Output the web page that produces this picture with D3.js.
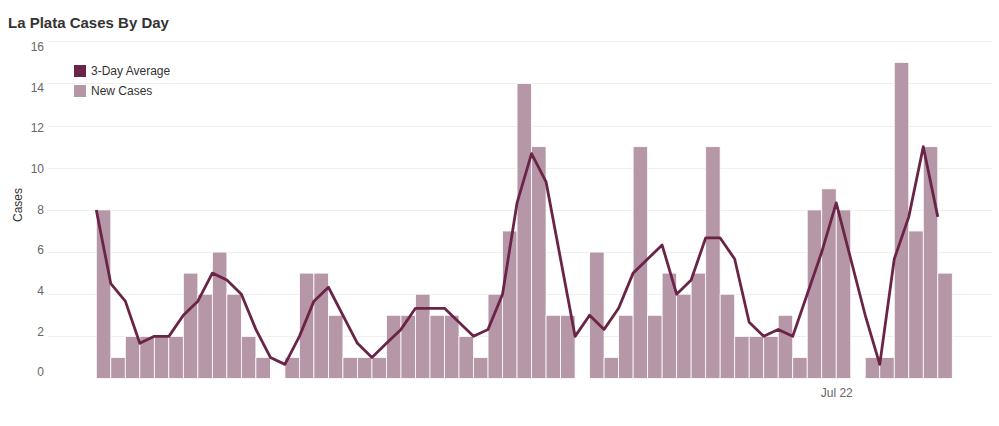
<!DOCTYPE html>
<html>
<head>
<meta charset="utf-8">
<script src="https://cdn.jsdelivr.net/npm/d3@7/dist/d3.min.js"></script>
<style>
  html, body { margin: 0; padding: 0; background: #fff; }
  svg { display: block; font-family: "Liberation Sans", Arial, Helvetica, sans-serif; }
</style>
</head>
<body>
<svg id="chart" width="999" height="426"></svg>
<script>
// ---- data ----
const dates = [
  "2020-06-01","2020-06-02","2020-06-03","2020-06-04","2020-06-05","2020-06-06","2020-06-07","2020-06-08","2020-06-09","2020-06-10",
  "2020-06-11","2020-06-12","2020-06-13","2020-06-14","2020-06-15","2020-06-16","2020-06-17","2020-06-18","2020-06-19","2020-06-20",
  "2020-06-21","2020-06-22","2020-06-23","2020-06-24","2020-06-25","2020-06-26","2020-06-27","2020-06-28","2020-06-29","2020-06-30",
  "2020-07-01","2020-07-02","2020-07-03","2020-07-04","2020-07-05","2020-07-06","2020-07-07","2020-07-08","2020-07-09","2020-07-10",
  "2020-07-11","2020-07-12","2020-07-13","2020-07-14","2020-07-15","2020-07-16","2020-07-17","2020-07-18","2020-07-19","2020-07-20",
  "2020-07-21","2020-07-22","2020-07-23","2020-07-24","2020-07-25","2020-07-26","2020-07-27","2020-07-28","2020-07-29"
];
const newCases = [
  8,1,2,2,2,2,5,4,6,4,
  2,1,0,1,5,5,3,1,1,1,
  3,3,4,3,3,2,1,4,7,14,
  11,3,3,0,6,1,3,11,3,5,
  4,5,11,4,2,2,2,3,1,8,
  9,8,0,1,1,15,7,11,5
];
const avg3 = [
  8,4.5,3.67,1.67,2,2,3,3.67,5,4.67,
  4,2.33,1,0.67,2,3.67,4.33,3,1.67,1,
  1.67,2.33,3.33,3.33,3.33,2.67,2,2.33,4,8.33,
  10.67,9.33,5.67,2,3,2.33,3.33,5,5.67,6.33,
  4,4.67,6.67,6.67,5.67,2.67,2,2.33,2,4,
  6,8.33,5.67,3,0.67,5.67,7.67,11,7.67
];
const yTicks = [0,2,4,6,8,10,12,14,16];
const xTickDates = ["2020-07-22"];
const seriesNames = ["3-Day Average", "New Cases"];

// ---- styles ----
const barColor = "#b697a7";
const lineColor = "#6a2447";

const parse = d3.utcParse("%Y-%m-%d");
const data = dates.map((d, i) => ({ date: parse(d), cases: newCases[i], avg: avg3[i] }));

const svg = d3.select("#chart");

const x = d3.scaleUtc()
  .domain([parse(dates[0]), d3.utcDay.offset(parse(dates[dates.length - 1]), 1)])
  .range([96.3, 952.3]);
const y = d3.scaleLinear().domain([0, 16]).range([378.5, 41.3]);
// tick labels sit slightly inside the grid extent in the reference
const yLabel = d3.scaleLinear().domain([0, 16]).range([372.5, 47]);

const gridLeft = 48, gridRight = 992;

// gridlines
svg.append("g")
  .selectAll("line")
  .data(yTicks.filter(t => t > 0))
  .join("line")
  .attr("x1", gridLeft).attr("x2", gridRight)
  .attr("y1", d => Math.round(y(d)) + 0.5).attr("y2", d => Math.round(y(d)) + 0.5)
  .attr("stroke", "#efefef").attr("stroke-width", 1);

// y tick labels
svg.append("g")
  .selectAll("text")
  .data(yTicks)
  .join("text")
  .attr("x", 44)
  .attr("y", d => yLabel(d))
  .attr("dy", "0.32em")
  .attr("text-anchor", "end")
  .attr("font-size", 12)
  .attr("fill", "#666")
  .text(d => d);

// bars
svg.append("g")
  .selectAll("rect")
  .data(data.filter(d => d.cases > 0))
  .join("rect")
  .attr("x", d => x(d.date))
  .attr("width", d => x(d3.utcDay.offset(d.date, 1)) - x(d.date))
  .attr("y", d => y(d.cases))
  .attr("height", d => y(0) - y(d.cases))
  .attr("fill", barColor)
  .attr("stroke", "#fff")
  .attr("stroke-width", 0.8);

// line
const line = d3.line().x(d => x(d.date)).y(d => y(d.avg));
svg.append("path")
  .datum(data)
  .attr("d", line)
  .attr("fill", "none")
  .attr("stroke", lineColor)
  .attr("stroke-width", 2.8)
  .attr("stroke-linejoin", "round");

// x axis
const xAxis = d3.axisBottom(x)
  .tickValues(xTickDates.map(parse))
  .tickFormat(d3.utcFormat("%b %-d"))
  .tickSize(0)
  .tickPadding(10);
const gx = svg.append("g").attr("transform", `translate(0,${y(0)})`).call(xAxis);
gx.select(".domain").remove();
gx.selectAll("text").attr("font-size", 12).attr("fill", "#666")
  .attr("font-family", "'Liberation Sans', Arial, sans-serif");

// y axis title
svg.append("text")
  .attr("transform", "translate(22,205) rotate(-90)")
  .attr("text-anchor", "middle")
  .attr("font-size", 12)
  .attr("fill", "#333")
  .text("Cases");

// title
svg.append("text")
  .attr("x", 8).attr("y", 28)
  .attr("font-size", 15)
  .attr("font-weight", "bold")
  .attr("fill", "#333")
  .text("La Plata Cases By Day");

// legend
const legend = svg.append("g").attr("transform", "translate(74,65)");
const legColors = [lineColor, barColor];
seriesNames.forEach((name, i) => {
  const g = legend.append("g").attr("transform", `translate(0,${i * 20})`);
  g.append("rect").attr("width", 12).attr("height", 12).attr("fill", legColors[i]);
  g.append("text").attr("x", 17).attr("y", 6).attr("dy", "0.35em")
    .attr("font-size", 12).attr("fill", "#333").text(name);
});
</script>
</body>
</html>
